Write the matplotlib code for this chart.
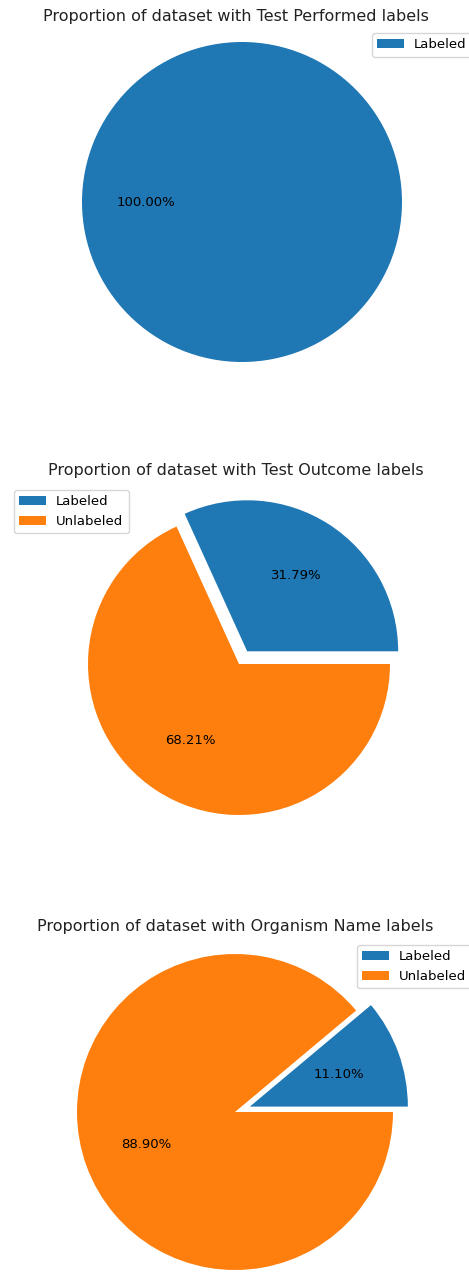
import matplotlib
matplotlib.use("Agg")
import matplotlib.pyplot as plt

W, H = 469, 1272

label_names = ["Labeled", "Unlabeled"]
titles = [
    "Proportion of dataset with Test Performed labels",
    "Proportion of dataset with Test Outcome labels",
    "Proportion of dataset with Organism Name labels",
]
performed_vals = [100.0]
outcome_vals = [31.79, 68.21]
organism_vals = [11.10, 88.90]

# pixel layout: pie centre, radius, title y, legend upper-left corner
layout = [
    dict(c=(242, 202), r=160, ty=16, leg=(372, 33)),
    dict(c=(239, 664), r=151, ty=471, leg=(14, 490)),
    dict(c=(235, 1112), r=158, ty=927, leg=(357, 945)),
]
data = [performed_vals, outcome_vals, organism_vals]
colors = ["#1f77b4", "#ff7f0e"]

fig = plt.figure(figsize=(W / 100, H / 100), dpi=100)

for vals, title, lay in zip(data, titles, layout):
    cx, cy = lay["c"]
    r = lay["r"]
    half = 1.25 * r
    ax = fig.add_axes([(cx - half) / W, 1 - (cy + half) / H, 2 * half / W, 2 * half / H])
    explode = [0.1] + [0] * (len(vals) - 1) if len(vals) > 1 else None
    ax.pie(vals, colors=colors[:len(vals)], explode=explode, autopct="%1.2f%%",
           textprops={"fontsize": 9.5})
    ax.set_xlim(-1.25, 1.25)
    ax.set_ylim(-1.25, 1.25)
    ax.set_aspect("equal")
    fig.text(0.5 + 1 / W, 1 - lay["ty"] / H, title, ha="center", va="center",
             fontsize=11.5, color="#222222")
    lx, ly = lay["leg"]
    ax.legend(label_names[:len(vals)], loc="upper left", borderaxespad=0,
              bbox_to_anchor=(lx / W, 1 - ly / H), bbox_transform=fig.transFigure,
              fontsize=9.5)

fig.savefig("out.png", dpi=100)
